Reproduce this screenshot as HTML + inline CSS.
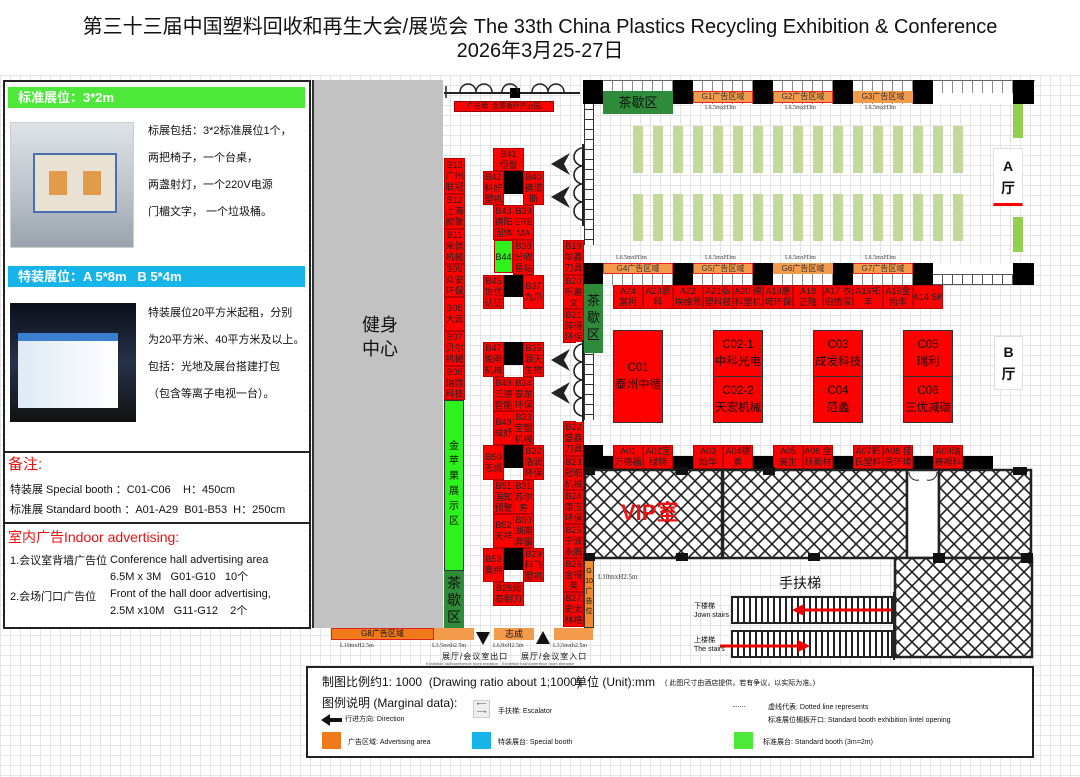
<!DOCTYPE html>
<html><head><meta charset="utf-8"><style>
*{margin:0;padding:0;box-sizing:border-box}
body{width:1080px;height:777px;position:relative;overflow:hidden;background:#fff;font-family:"Liberation Sans","Noto Sans CJK SC",sans-serif;color:#111}
.a{position:absolute}
.grid{position:absolute;left:0;top:75px;width:1080px;height:702px;background-image:linear-gradient(#e4e4e4 1px,transparent 1px),linear-gradient(90deg,#e4e4e4 1px,transparent 1px);background-size:10px 10px}
.r{position:absolute;background:#f00;border:1px solid #b00;color:#222;font-size:9px;line-height:11px;text-align:center;display:flex;align-items:center;justify-content:center;flex-direction:column;white-space:nowrap;overflow:hidden;font-family:"Liberation Sans","Noto Sans CJK SC",sans-serif}
.k{position:absolute;background:#000}
.o{position:absolute;background:#f39a4b;border:1.5px solid #e22;font-size:8px;line-height:9px;text-align:center;color:#333;white-space:nowrap}
.lab{position:absolute;font-size:6px;color:#333;font-family:"Liberation Serif",serif}
.C{position:absolute;background:#f00;border:1px solid #333;font-size:11.5px;line-height:17px;text-align:center;color:#111;display:flex;align-items:center;justify-content:center;white-space:nowrap}
.gr{position:absolute;background:#2e8b3a;color:#111;text-align:center}
</style></head><body>
<div class="grid"></div>
<div class="a" style="left:0;top:15px;width:1080px;text-align:center;font-size:20px;line-height:24px">第三十三届中国塑料回收和再生大会/展览会 The 33th China Plastics Recycling Exhibition &amp; Conference<br>2026年3月25-27日</div>

<!-- left panel -->
<div class="a" style="left:3px;top:80px;width:308px;height:549px;border:2px solid #222;background:#fff"></div>
<div class="a" style="left:8px;top:87px;width:297px;height:21px;background:#4ee83a;color:#fff;font-size:13px;font-weight:bold;line-height:21px;padding-left:10px">标准展位：3*2m</div>
<div class="a" style="left:10px;top:122px;width:124px;height:126px;background:linear-gradient(#dfe3e8,#b9c0c8 60%,#9aa3ad);border:1px solid #ccc"><div class="a" style="left:22px;top:30px;width:84px;height:60px;background:#e9e2d2;border:2px solid #4a6fb0"></div><div class="a" style="left:38px;top:48px;width:18px;height:24px;background:#e29a4b"></div><div class="a" style="left:72px;top:48px;width:18px;height:24px;background:#e29a4b"></div></div>
<div class="a" style="left:148px;top:118px;font-size:11px;line-height:27px;white-space:nowrap">标展包括：3*2标准展位1个，<br>两把椅子，一个台桌，<br>两盏射灯，一个220V电源<br>门楣文字， 一个垃圾桶。</div>
<div class="a" style="left:8px;top:266px;width:297px;height:21px;background:#17b4ea;color:#fff;font-size:13px;font-weight:bold;line-height:21px;padding-left:10px">特装展位：A 5*8m &nbsp; B 5*4m</div>
<div class="a" style="left:10px;top:303px;width:126px;height:119px;background:linear-gradient(#0b0f1a,#26324a 50%,#111)"><div class="a" style="left:8px;top:30px;width:100px;height:75px;background:linear-gradient(90deg,#dfeaf5,#fff);border-top:8px solid #3a7fd0"></div></div>
<div class="a" style="left:148px;top:300px;font-size:11px;line-height:27px;white-space:nowrap">特装展位20平方米起租，分别<br>为20平方米、40平方米及以上。<br>包括：光地及展台搭建打包<br>（包含等离子电视一台）。</div>
<div class="a" style="left:3px;top:451px;width:308px;height:2px;background:#222"></div>
<div class="a" style="left:8px;top:455px;font-size:15px;color:#e11;line-height:20px">备注:</div>
<div class="a" style="left:10px;top:480px;font-size:11px;line-height:20px">特装展 Special booth ：C01-C06 &nbsp;&nbsp; H：450cm<br>标准展 Standard booth ：A01-A29 &nbsp;B01-B53 &nbsp;H：250cm</div>
<div class="a" style="left:3px;top:522px;width:308px;height:2px;background:#222"></div>
<div class="a" style="left:8px;top:527px;font-size:14px;color:#e11;line-height:20px">室内广告Indoor advertising:</div>
<div class="a" style="left:10px;top:552px;font-size:11px;line-height:18px">1.会议室背墙广告位<br><br>2.会场门口广告位</div>
<div class="a" style="left:110px;top:552px;font-size:11px;line-height:17px">Conference hall advertising area<br>6.5M x 3M &nbsp; G01-G10 &nbsp; 10个<br>Front of the hall door advertising,<br>2.5M x10M &nbsp; G11-G12 &nbsp;&nbsp; 2个</div>

<!-- gym -->
<div class="a" style="left:312px;top:80px;width:131px;height:548px;background:#c2c2c2;border-left:2px solid #333"></div>
<div class="a" style="left:345px;top:313px;width:70px;text-align:center;font-size:18px;line-height:24px">健身<br>中心</div>

<!-- top wall left -->
<div class="a" style="left:444px;top:92px;width:136px;height:2px;background:#222"></div>
<div class="k" style="left:510px;top:88px;width:10px;height:10px"></div>
<svg class="a" style="left:444px;top:80px" width="140" height="20"><g fill="none" stroke="#222" stroke-width="1.5"><path d="M16 12 a8 8 0 0 1 16 0 a8 8 0 0 1 16 0 M58 12 a8 8 0 0 1 16 0"/><path d="M88 12 a8 8 0 0 1 16 0 a8 8 0 0 1 16 0"/><path d="M2 6 v12"/></g></svg>
<div class="a" style="left:454px;top:101px;width:100px;height:11px;background:#f00;border:1px solid #900;font-size:7px;line-height:9px;text-align:center;color:#222">广告墙 &nbsp;金寨循环产业园</div>

<!-- B13-B06 column -->
<div class="r" style="left:444px;top:158px;width:21px;height:36px">B13<br>广州<br>联冠</div>
<div class="r" style="left:444px;top:194px;width:21px;height:35px">B12<br>上海<br>颜聚</div>
<div class="r" style="left:444px;top:229px;width:21px;height:35px">B11<br>米信<br>机械</div>
<div class="r" style="left:444px;top:264px;width:21px;height:33px">B09<br>众安<br>环保</div>
<div class="r" style="left:444px;top:297px;width:21px;height:34px">B08<br>大云</div>
<div class="r" style="left:444px;top:331px;width:21px;height:35px">B07<br>贝尔<br>机械</div>
<div class="r" style="left:444px;top:366px;width:21px;height:34px">B06<br>瑞欧<br>科技</div>
<div class="a" style="left:444px;top:400px;width:20px;height:171px;background:#2ef21c;border:1px solid #333;font-size:10px;line-height:15px;text-align:center;padding-top:38px">金<br>苹<br>果<br>展<br>示<br>区</div>
<div class="gr" style="left:444px;top:571px;width:20px;height:57px;font-size:14px;line-height:17px;padding-top:4px">茶<br>歇<br>区</div>

<!-- B cluster upper -->
<div class="r" style="left:493px;top:148px;width:31px;height:23px">B41<br>恒誉</div>
<div class="r" style="left:483px;top:171px;width:21px;height:34px">B42<br>科好<br>塑机</div>
<div class="k" style="left:504px;top:171px;width:19px;height:23px"></div>
<div class="r" style="left:523px;top:171px;width:21px;height:34px">B40<br>佛诺<br>斯</div>
<div class="r" style="left:493px;top:205px;width:21px;height:35px">B43<br>德阳<br>固体</div>
<div class="r" style="left:513px;top:205px;width:21px;height:35px">B39<br>ERE<br>MA</div>
<div class="a" style="left:494px;top:240px;width:19px;height:33px;background:#2ef21c;border:1px solid #b00;font-size:9px;line-height:33px;text-align:center">B44</div>
<div class="r" style="left:513px;top:240px;width:21px;height:35px">B38<br>分收<br>易站</div>
<div class="r" style="left:483px;top:275px;width:21px;height:34px">B45<br>世优<br>认证</div>
<div class="k" style="left:504px;top:275px;width:19px;height:22px"></div>
<div class="r" style="left:523px;top:275px;width:21px;height:34px">B37<br>九爪</div>

<!-- B cluster lower -->
<div class="r" style="left:483px;top:342px;width:21px;height:35px">B47<br>俊雨<br>机械</div>
<div class="k" style="left:504px;top:342px;width:19px;height:23px"></div>
<div class="r" style="left:523px;top:342px;width:21px;height:35px">B35<br>源天<br>生物</div>
<div class="r" style="left:493px;top:377px;width:21px;height:34px">B48<br>三德<br>智能</div>
<div class="r" style="left:513px;top:377px;width:21px;height:34px">B34<br>泰龙<br>环保</div>
<div class="r" style="left:493px;top:411px;width:21px;height:34px">B49<br>成妤</div>
<div class="r" style="left:513px;top:411px;width:21px;height:34px">B33<br>宝塑<br>机械</div>
<div class="r" style="left:483px;top:445px;width:21px;height:35px">B50<br>志成</div>
<div class="k" style="left:504px;top:445px;width:19px;height:23px"></div>
<div class="r" style="left:523px;top:445px;width:21px;height:35px">B32<br>浩润<br>环保</div>
<div class="r" style="left:493px;top:480px;width:21px;height:34px">B51<br>国知<br>预警</div>
<div class="r" style="left:513px;top:480px;width:21px;height:34px">B31<br>苏尔<br>寿</div>
<div class="r" style="left:493px;top:514px;width:21px;height:34px">B52<br>天祥</div>
<div class="r" style="left:513px;top:514px;width:21px;height:34px">B30<br>湖南<br>奔骥</div>
<div class="r" style="left:483px;top:548px;width:21px;height:34px">B53<br>奥绅</div>
<div class="k" style="left:504px;top:548px;width:19px;height:22px"></div>
<div class="r" style="left:523px;top:548px;width:21px;height:34px">B29<br>科飞<br>塑机</div>
<div class="r" style="left:493px;top:582px;width:31px;height:24px">B28润<br>泰制刀</div>

<!-- B19-B27 -->
<div class="r" style="left:563px;top:240px;width:21px;height:35px">B19<br>华鑫<br>刀具</div>
<div class="r" style="left:563px;top:275px;width:21px;height:34px">B20<br>乐嘉<br>文</div>
<div class="r" style="left:563px;top:309px;width:21px;height:34px">B21<br>碎得<br>环保</div>
<div class="r" style="left:563px;top:421px;width:21px;height:35px">B22<br>盛鑫<br>刀具</div>
<div class="r" style="left:563px;top:456px;width:21px;height:34px">B23<br>冠临<br>机械</div>
<div class="r" style="left:563px;top:490px;width:21px;height:34px">B24<br>康玉<br>环保</div>
<div class="r" style="left:563px;top:524px;width:21px;height:34px">B25<br>宁波<br>永腾</div>
<div class="r" style="left:563px;top:558px;width:21px;height:34px">B26<br>金得<br>莱</div>
<div class="r" style="left:563px;top:592px;width:21px;height:35px">B27<br>史太<br>林格</div>
<div class="a" style="left:584px;top:560px;width:10px;height:68px;background:#f08a30;border:1px solid #333;font-size:7px;line-height:10px;text-align:center;padding-top:6px">G<br>10<br>广<br>告<br>位</div>
<div class="lab" style="left:598px;top:573px;font-size:7px">L10mxH2.5m</div>

<!-- right wall of left area (ladder) -->
<div class="a" style="left:584px;top:80px;width:10px;height:165px;border-left:1px solid #333;border-right:1px solid #333;background:repeating-linear-gradient(#fff 0 9px,#333 9px 10px)"></div>
<div class="a" style="left:584px;top:345px;width:10px;height:75px;border-left:1px solid #333;border-right:1px solid #333;background:repeating-linear-gradient(#fff 0 9px,#333 9px 10px)"></div>
<div class="a" style="left:576px;top:145px;width:8px;height:80px;background:#fff"></div>
<div class="a" style="left:576px;top:342px;width:8px;height:80px;background:#fff"></div>
<svg class="a" style="left:550px;top:140px" width="36" height="90"><path d="M33 4 V86" stroke="#222" stroke-width="2"/><g fill="none" stroke="#222" stroke-width="1.6"><path d="M33 8 a9 9 0 0 0 0 18 a9 9 0 0 0 0 18 a9 9 0 0 0 0 18 a9 9 0 0 0 0 18"/></g><path d="M1 24 L20 13 L14 24 L20 35Z" fill="#222"/><path d="M1 57 L20 46 L14 57 L20 68Z" fill="#222"/></svg>
<svg class="a" style="left:550px;top:336px" width="36" height="90"><path d="M33 4 V86" stroke="#222" stroke-width="2"/><g fill="none" stroke="#222" stroke-width="1.6"><path d="M33 8 a9 9 0 0 0 0 18 a9 9 0 0 0 0 18 a9 9 0 0 0 0 18 a9 9 0 0 0 0 18"/></g><path d="M1 24 L20 13 L14 24 L20 35Z" fill="#222"/><path d="M1 57 L20 46 L14 57 L20 68Z" fill="#222"/></svg>

<!-- A hall top wall -->
<div class="a" style="left:583px;top:80px;width:452px;height:24px;background:repeating-linear-gradient(90deg,#fff 0 9px,#888 9px 10px);border-top:1px solid #666"></div>
<div class="k" style="left:583px;top:80px;width:20px;height:24px"></div>
<div class="k" style="left:673px;top:80px;width:20px;height:24px"></div>
<div class="k" style="left:753px;top:80px;width:20px;height:24px"></div>
<div class="k" style="left:833px;top:80px;width:20px;height:24px"></div>
<div class="k" style="left:913px;top:80px;width:20px;height:24px"></div>
<div class="k" style="left:1013px;top:80px;width:21px;height:24px"></div>
<div class="a" style="left:933px;top:93px;width:80px;height:11px;background:#fff"></div>
<div class="gr" style="left:603px;top:91px;width:70px;height:23px;font-size:13px;line-height:23px">茶歇区</div>
<div class="o" style="left:693px;top:91px;width:60px;height:12px">G1广告区域</div>
<div class="o" style="left:773px;top:91px;width:60px;height:12px">G2广告区域</div>
<div class="o" style="left:853px;top:91px;width:60px;height:12px;border-color:#f39a4b">G3广告区域</div>
<div class="lab" style="left:705px;top:105px">L6.5mxH3m</div>
<div class="lab" style="left:785px;top:105px">L6.5mxH3m</div>
<div class="lab" style="left:865px;top:105px">L6.5mxH3m</div>

<!-- chairs -->
<div class="a" style="left:633px;top:126px;width:340px;height:47px;background:repeating-linear-gradient(90deg,#c5d89b 0 10px,transparent 10px 20px)"></div>
<div class="a" style="left:633px;top:194px;width:340px;height:47px;background:repeating-linear-gradient(90deg,#c5d89b 0 10px,transparent 10px 20px)"></div>
<div class="a" style="left:1013px;top:104px;width:10px;height:34px;background:#92d050"></div>
<div class="a" style="left:1013px;top:217px;width:10px;height:35px;background:#92d050"></div>
<div class="a" style="left:993px;top:148px;width:30px;height:58px;background:#fff;border:1px solid #ddd;border-bottom:3px solid #f00;font-size:14px;font-weight:bold;line-height:22px;text-align:center;padding-top:6px">A<br>厅</div>

<!-- second wall -->
<div class="lab" style="left:616px;top:255px">L6.5mxH3m</div>
<div class="lab" style="left:705px;top:255px">L6.5mxH3m</div>
<div class="lab" style="left:785px;top:255px">L6.5mxH3m</div>
<div class="lab" style="left:865px;top:255px">L6.5mxH3m</div>
<div class="a" style="left:583px;top:263px;width:452px;height:22px;background:repeating-linear-gradient(90deg,#fff 0 9px,#888 9px 10px)"></div>
<div class="a" style="left:583px;top:263px;width:452px;height:11px;background:#fff"></div>
<div class="k" style="left:583px;top:263px;width:20px;height:22px"></div>
<div class="k" style="left:673px;top:263px;width:20px;height:22px"></div>
<div class="k" style="left:753px;top:263px;width:20px;height:22px"></div>
<div class="k" style="left:833px;top:263px;width:20px;height:22px"></div>
<div class="k" style="left:913px;top:263px;width:20px;height:22px"></div>
<div class="k" style="left:1013px;top:263px;width:21px;height:22px"></div>
<div class="a" style="left:933px;top:274px;width:80px;height:11px;background:repeating-linear-gradient(90deg,#fff 0 9px,#555 9px 10px);border-top:1px solid #555;border-bottom:1px solid #555"></div>
<div class="o" style="left:603px;top:263px;width:70px;height:11px">G4广告区域</div>
<div class="o" style="left:693px;top:263px;width:60px;height:11px">G5广告区域</div>
<div class="o" style="left:773px;top:263px;width:60px;height:11px;border-color:#f39a4b">G6广告区域</div>
<div class="o" style="left:853px;top:263px;width:60px;height:11px">G7广告区域</div>
<div class="gr" style="left:584px;top:284px;width:19px;height:69px;font-size:13px;line-height:17px;padding-top:8px">茶<br>歇<br>区</div>

<!-- A24-A14 -->
<div class="r" style="left:613px;top:285px;width:30px;height:24px">A24<br>富柯</div>
<div class="r" style="left:643px;top:285px;width:30px;height:24px">A23恩<br>科</div>
<div class="r" style="left:673px;top:285px;width:30px;height:24px">A22<br>埃维恩</div>
<div class="r" style="left:703px;top:285px;width:30px;height:24px">A21弘<br>塑科技</div>
<div class="r" style="left:733px;top:285px;width:30px;height:24px">A20 德<br>科塑机</div>
<div class="r" style="left:763px;top:285px;width:30px;height:24px">A19惠<br>城环保</div>
<div class="r" style="left:793px;top:285px;width:30px;height:24px">A18<br>正隆</div>
<div class="r" style="left:823px;top:285px;width:30px;height:24px">A17 衣<br>旧情深</div>
<div class="r" style="left:853px;top:285px;width:30px;height:24px">A16拓<br>丰</div>
<div class="r" style="left:883px;top:285px;width:30px;height:24px">A15金<br>怡丰</div>
<div class="r" style="left:913px;top:285px;width:30px;height:24px">A14 SK</div>

<!-- C booths -->
<div class="C" style="left:613px;top:330px;width:50px;height:93px">C01<br>泰州中循</div>
<div class="C" style="left:713px;top:330px;width:50px;height:47px">C02-1<br>中科光电</div>
<div class="C" style="left:713px;top:376px;width:50px;height:47px">C02-2<br>天宏机械</div>
<div class="C" style="left:813px;top:330px;width:50px;height:47px">C03<br>成发科技</div>
<div class="C" style="left:813px;top:376px;width:50px;height:47px">C04<br>范蠡</div>
<div class="C" style="left:903px;top:330px;width:50px;height:47px">C05<br>瑞利</div>
<div class="C" style="left:903px;top:376px;width:50px;height:47px">C06<br>三优减碳</div>
<div class="a" style="left:994px;top:336px;width:29px;height:54px;background:#fff;border:1px solid #ddd;font-size:14px;font-weight:bold;line-height:22px;text-align:center;padding-top:4px">B<br>厅</div>

<!-- A01 row -->
<div class="k" style="left:583px;top:445px;width:20px;height:24px"></div>
<div class="k" style="left:603px;top:456px;width:390px;height:13px"></div>
<div class="r" style="left:613px;top:445px;width:30px;height:24px">A01<br>万德福</div>
<div class="r" style="left:643px;top:445px;width:30px;height:24px">A02宝<br>绿特</div>
<div class="r" style="left:693px;top:445px;width:30px;height:24px">A03<br>灿华</div>
<div class="r" style="left:723px;top:445px;width:30px;height:24px">A04德<br>奥</div>
<div class="r" style="left:773px;top:445px;width:30px;height:24px">A05<br>美生</div>
<div class="r" style="left:803px;top:445px;width:30px;height:24px">A06 金<br>跃新材</div>
<div class="r" style="left:853px;top:445px;width:30px;height:24px">A07彩<br>氏塑料</div>
<div class="r" style="left:883px;top:445px;width:30px;height:24px">A08 佳<br>原环境</div>
<div class="r" style="left:933px;top:445px;width:30px;height:24px">A09瑞<br>赛福科</div>

<!-- VIP hatch -->
<svg class="a" style="left:583px;top:467px" width="460" height="195">
<defs><pattern id="h" width="14" height="14" patternUnits="userSpaceOnUse"><rect width="14" height="14" fill="#fff"/><path d="M0 0L14 14M14 0L0 14" stroke="#222" stroke-width="1.6"/></pattern></defs>
<g stroke="#222" stroke-width="2.5">
<rect x="2" y="3" width="137" height="88" fill="url(#h)"/>
<rect x="140" y="3" width="184" height="88" fill="url(#h)"/>
<rect x="324" y="3" width="32" height="88" fill="#fff"/>
<rect x="356" y="3" width="92" height="88" fill="url(#h)"/>
<rect x="312" y="91" width="137" height="99" fill="url(#h)"/>
</g>
<g fill="#111"><rect x="0" y="0" width="12" height="8"/><rect x="93" y="0" width="12" height="8"/><rect x="180" y="0" width="12" height="8"/><rect x="430" y="0" width="14" height="8"/><rect x="0" y="86" width="12" height="8"/><rect x="93" y="86" width="12" height="8"/><rect x="225" y="86" width="12" height="8"/><rect x="350" y="86" width="12" height="10"/><rect x="438" y="86" width="12" height="10"/></g>
<path d="M326 5 a8 8 0 0 0 10 8 M354 5 a8 8 0 0 1 -10 8" fill="none" stroke="#222"/>
<text x="38" y="53" font-size="22" font-weight="bold" fill="#e11" font-family="Liberation Sans, Noto Sans CJK SC, sans-serif">VIP室</text>
</svg>

<!-- escalator -->
<div class="a" style="left:779px;top:573px;font-size:14px">手扶梯</div>
<div class="a" style="left:731px;top:596px;width:162px;height:28px;border:2px solid #222;background:repeating-linear-gradient(90deg,#fff 0 4px,#222 4px 6px)"></div>
<div class="a" style="left:731px;top:630px;width:162px;height:28px;border:2px solid #222;background:repeating-linear-gradient(90deg,#fff 0 4px,#222 4px 6px)"></div>
<div class="a" style="left:893px;top:592px;width:2px;height:68px;background:#222"></div>
<svg class="a" style="left:720px;top:596px" width="190" height="65"><path d="M172 14H80" stroke="#e00" stroke-width="3"/><path d="M72 14 L84 8 V20Z" fill="#e00"/><path d="M0 50H82" stroke="#e00" stroke-width="3"/><path d="M90 50 L78 44 V56Z" fill="#e00"/></svg>
<div class="a" style="left:694px;top:602px;font-size:7px;line-height:9px">下楼梯<br>Jown stairs</div>
<div class="a" style="left:694px;top:636px;font-size:7px;line-height:9px">上楼梯<br>The stairs</div>

<!-- bottom strip -->
<div class="a" style="left:331px;top:628px;width:103px;height:12px;background:#f07a1a;border:1.5px solid #d22;font-size:8px;line-height:9px;text-align:center">G8广告区域</div>
<div class="a" style="left:434px;top:628px;width:40px;height:12px;background:#f39a4b"></div>
<div class="a" style="left:494px;top:628px;width:40px;height:12px;background:#f39a4b;font-size:9px;line-height:12px;text-align:center">志成</div>
<div class="a" style="left:554px;top:628px;width:39px;height:12px;background:#f39a4b"></div>
<svg class="a" style="left:474px;top:628px" width="80" height="20"><path d="M2 4 L16 4 L9 17Z" fill="#111"/><path d="M62 16 L76 16 L69 3Z" fill="#111"/></svg>
<div class="lab" style="left:340px;top:643px">L10mxH2.5m</div>
<div class="lab" style="left:432px;top:643px">L3.5mxh2.5m</div>
<div class="lab" style="left:493px;top:643px">L6.8xH2.5m</div>
<div class="lab" style="left:553px;top:643px">L3.5mxh2.5m</div>
<div class="a" style="left:442px;top:651px;font-size:8px;letter-spacing:1px">展厅/会议室出口</div>
<div class="a" style="left:521px;top:651px;font-size:8px;letter-spacing:1px">展厅/会议室入口</div>
<div class="a" style="left:426px;top:661px;font-size:4px;color:#555">Exhibition hall/conference room entrance &nbsp; Exhibition hall/conference room entrance</div>

<!-- legend -->
<div class="a" style="left:306px;top:666px;width:728px;height:92px;border:2.5px solid #222;background:#fff"></div>
<div class="a" style="left:322px;top:673px;font-size:12px;white-space:nowrap">制图比例约1: 1000 &nbsp;(Drawing ratio about 1;1000)</div>
<div class="a" style="left:575px;top:673px;font-size:12px;white-space:nowrap">单位 (Unit):mm</div>
<div class="a" style="left:665px;top:678px;font-size:7px;white-space:nowrap">( 此图尺寸由酒店提供，若有争议，以实际为准。)</div>
<div class="a" style="left:322px;top:694px;font-size:12px">图例说明 (Marginal data):</div>
<svg class="a" style="left:320px;top:713px" width="24" height="14"><path d="M1 7 L10 1 V5 H22 V9 H10 V13Z" fill="#111"/></svg>
<div class="a" style="left:345px;top:714px;font-size:7px">行进方向: Direction</div>
<div class="a" style="left:473px;top:700px;width:17px;height:18px;background:#eee;border:1px solid #ccc;font-size:7px;line-height:8px;text-align:center;color:#555">⟵<br>⟶</div>
<div class="a" style="left:498px;top:706px;font-size:7px">手扶梯: Escalator</div>
<div class="a" style="left:733px;top:706px;width:12px;border-top:1px dotted #777"></div>
<div class="a" style="left:768px;top:701px;font-size:7px;line-height:13px;white-space:nowrap">虚线代表: Dotted line represents<br>标准展位楣板开口: Standard booth exhibition lintel opening</div>
<div class="a" style="left:322px;top:732px;width:19px;height:17px;background:#f07a1a"></div>
<div class="a" style="left:348px;top:737px;font-size:7px">广告区域: Advertising area</div>
<div class="a" style="left:472px;top:732px;width:19px;height:17px;background:#17b4ea"></div>
<div class="a" style="left:498px;top:737px;font-size:7px">特装展台: Special booth</div>
<div class="a" style="left:734px;top:732px;width:19px;height:17px;background:#4ee83a"></div>
<div class="a" style="left:763px;top:737px;font-size:7px">标准展台: Standard booth (3m=2m)</div>
</body></html>
